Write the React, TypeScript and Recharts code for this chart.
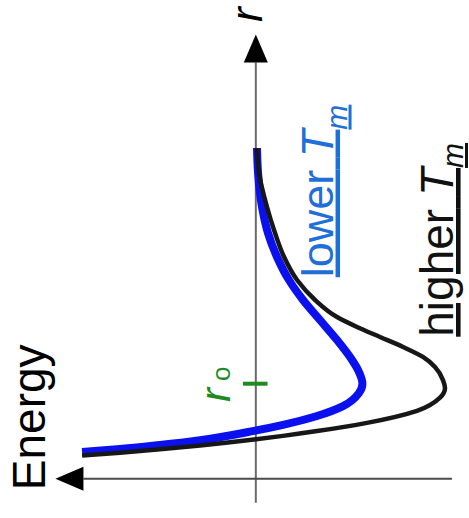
import React from 'react';
import { LineChart, Line, XAxis, YAxis, ReferenceLine, ReferenceDot } from 'recharts';

// r in units of r0, energy in units of the lower-Tm well depth
const lowerTmR = [0.288, 0.319, 0.361, 0.411, 0.508, 0.571, 0.663, 0.766, 0.903, 1.0, 1.143, 1.247, 1.455, 1.664, 1.873, 2.081, 2.321, 2.571, 2.842, 3.196, 3.457];
const lowerTmEnergy = [1.63, 1.274, 0.899, 0.523, 0.017, -0.255, -0.574, -0.818, -0.968, -1.0, -0.959, -0.903, -0.762, -0.602, -0.443, -0.311, -0.199, -0.114, -0.058, -0.021, -0.011];

const higherTmR = [0.251, 0.281, 0.316, 0.356, 0.418, 0.456, 0.506, 0.592, 0.717, 0.854, 0.955, 1.038, 1.174, 1.279, 1.383, 1.487, 1.591, 1.695, 1.873, 2.081, 2.321, 2.571, 2.842, 3.196, 3.457];
const higherTmEnergy = [1.63, 1.274, 0.899, 0.523, 0.017, -0.255, -0.574, -1.043, -1.512, -1.728, -1.775, -1.756, -1.681, -1.568, -1.381, -1.165, -0.95, -0.762, -0.556, -0.387, -0.265, -0.18, -0.105, -0.03, -0.011];

const r0 = 1;

const FONT = '"Liberation Sans", Arial, sans-serif';

// axis line with a filled arrowhead at its second end
const ArrowAxis = (props: any) => {
  const { x1, y1, x2, y2, stroke } = props;
  const len = Math.hypot(x2 - x1, y2 - y1) || 1;
  const ux = (x2 - x1) / len;
  const uy = (y2 - y1) / len;
  const head = 28;
  const half = 12;
  const bx = x2 - ux * head;
  const by = y2 - uy * head;
  const pts = `${x2},${y2} ${bx - uy * half},${by + ux * half} ${bx + uy * half},${by - ux * half}`;
  return (
    <g>
      <line x1={x1} y1={y1} x2={bx} y2={by} stroke={stroke} strokeWidth={2} />
      <polygon points={pts} fill="#000" />
    </g>
  );
};

// text turned to read bottom-to-top, anchored at the dot position
const upText = (children: React.ReactNode, fill: string, size: number, italic = false) => (p: any) => (
  <text
    x={p.cx}
    y={p.cy}
    transform={`rotate(-90 ${p.cx} ${p.cy})`}
    fill={fill}
    fontSize={size}
    fontFamily={FONT}
    fontStyle={italic ? 'italic' : 'normal'}
  >
    {children}
  </text>
);

const tmLabel = (word: string, shift: number) => (
  <>
    <tspan style={{ textDecoration: 'underline' }}>{word} </tspan>
    <tspan fontStyle="italic" style={{ textDecoration: 'underline' }}>T</tspan>
    <tspan fontStyle="italic" fontSize={30} dy={shift} style={{ textDecoration: 'underline' }}>m</tspan>
  </>
);

export default function App() {
  const lower = lowerTmR.map((r, i) => ({ r, energy: lowerTmEnergy[i] }));
  const higher = higherTmR.map((r, i) => ({ r, energy: higherTmEnergy[i] }));

  return (
    <div style={{ position: 'absolute', left: 0, top: 0, background: '#fff' }}>
      <LineChart width={469} height={518} layout="vertical" margin={{ top: 0, right: 0, bottom: 0, left: 0 }}>
        <XAxis type="number" domain={[-2, 2.4]} reversed hide allowDataOverflow />
        <YAxis type="number" dataKey="r" domain={[-0.4, 5]} reversed hide allowDataOverflow />

        {/* r axis pointing up, energy axis pointing left */}
        <ReferenceLine segment={[{ x: 0, y: -0.24 }, { x: 0, y: 4.64 }]} stroke="#6a6a6a" shape={ArrowAxis} />
        <ReferenceLine segment={[{ x: -1.84, y: 0.01 }, { x: 1.88, y: 0.01 }]} stroke="#4a4a4a" shape={ArrowAxis} />

        {/* equilibrium spacing tick */}
        <ReferenceLine segment={[{ x: 0.12, y: r0 }, { x: -0.11, y: r0 }]} stroke="#1f8a1f" strokeWidth={4} />

        <Line data={lower} dataKey="energy" type="monotone" stroke="#0b10ee" strokeWidth={8} strokeLinecap="butt" dot={false} activeDot={false} isAnimationActive={false} />
        <Line data={higher} dataKey="energy" type="monotone" stroke="#171717" strokeWidth={4.5} strokeLinecap="butt" dot={false} activeDot={false} isAnimationActive={false} />

        <ReferenceDot x={-0.06} y={4.77} r={1} shape={upText('r', '#000', 44, true)} />
        <ReferenceDot x={1.98} y={-0.11} r={1} shape={upText('Energy', '#000', 46)} />
        <ReferenceDot x={-0.72} y={2.11} r={1} shape={upText(tmLabel('lower', 14), '#1f6fd8', 45)} />
        <ReferenceDot x={-1.85} y={1.49} r={1} shape={upText(tmLabel('higher', 10), '#111', 46)} />
        <ReferenceDot
          x={0.24}
          y={0.81}
          r={1}
          shape={upText(
            <>
              <tspan fontStyle="italic">r</tspan>
              <tspan fontSize={26} dx={7}>o</tspan>
            </>,
            '#1f8a1f',
            42
          )}
        />
      </LineChart>
    </div>
  );
}
